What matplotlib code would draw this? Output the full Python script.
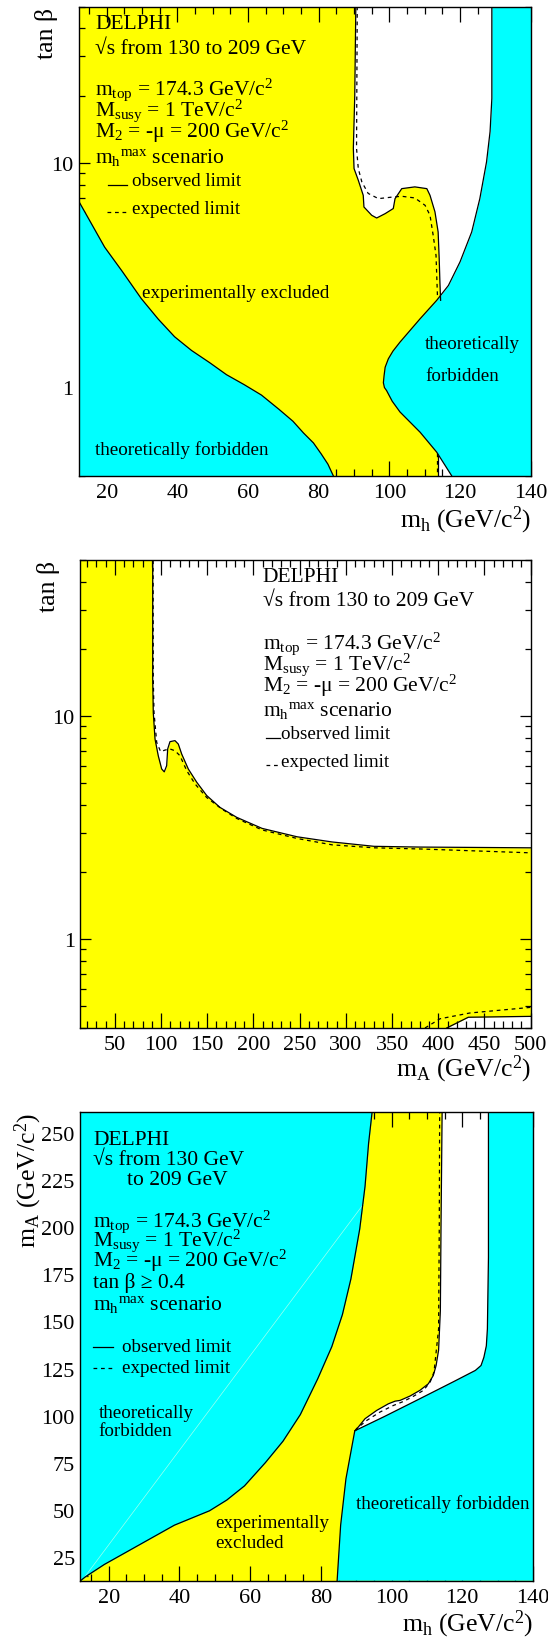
import matplotlib
matplotlib.use('Agg')
import matplotlib.pyplot as plt
from matplotlib.lines import Line2D
from matplotlib.ticker import MultipleLocator, LogLocator, FixedLocator, FixedFormatter, NullFormatter

plt.rcParams['font.family'] = ['Liberation Serif', 'DejaVu Serif']
plt.rcParams['mathtext.fontset'] = 'custom'
plt.rcParams['mathtext.rm'] = 'Liberation Serif'
plt.rcParams['mathtext.it'] = 'Liberation Serif:italic'
plt.rcParams['mathtext.bf'] = 'Liberation Serif:bold'

YELLOW = '#ffff00'
CYAN = '#00ffff'
W, H = 548, 1640

# ---------------- Panel 1 : tan(beta) vs m_h ----------------
p1_xlim = (12, 140)
p1_ylim = (0.4, 50)
p1_cyan_left_mh = [12, 19.4, 24.4, 29.8, 34.6, 39.2, 44.0, 49.1, 53.9, 58.9, 63.8, 68.8,
                   72.7, 75.7, 78.5, 80.7, 82.6, 84.1]
p1_cyan_left_tanb = [6.77, 4.2, 3.27, 2.47, 2.0, 1.67, 1.45, 1.28, 1.13, 1.02, 0.916, 0.79,
                     0.70, 0.62, 0.56, 0.50, 0.45, 0.40]
p1_cyan_right_mh = [129.0, 129.0, 128.5, 127.5, 125.6, 123.3, 120.0, 116.7, 113.4, 108.7,
                    103.0, 101.0, 99.7, 98.8, 98.5, 98.3, 98.6, 99.2, 100.8, 103.0, 108.7,
                    113.4, 117.6]
p1_cyan_right_tanb = [50, 19.4, 13.8, 10.1, 6.92, 4.91, 3.61, 2.83, 2.43, 2.01,
                      1.58, 1.44, 1.33, 1.22, 1.12, 1.04, 0.99, 0.96, 0.86, 0.77, 0.625,
                      0.509, 0.40]
p1_obs_mh = [90.5, 90.2, 89.8, 90.0, 91.2, 92.6, 92.8, 95.0, 96.4, 98.8, 101.1, 101.6,
             103.5, 107.2, 110.6, 111.5, 112.9, 113.8, 114.1, 114.3, 114.5]
p1_obs_tanb = [50, 20, 11.6, 9.43, 8.36, 7.16, 6.35, 5.83, 5.67, 5.93, 6.25, 6.92,
               7.67, 7.81, 7.67, 7.16, 6.04, 4.91, 3.73, 2.94, 2.43]
p1_exp_mh = [90.9, 90.7, 91.2, 92.2, 94.0, 96.9, 101.1, 103.5, 107.2, 110.1, 111.5,
             112.4, 113.2, 113.4, 113.6]
p1_exp_tanb = [50, 11.6, 9.43, 8.22, 7.30, 6.92, 7.04, 7.09, 6.97, 6.46, 5.83,
               4.74, 3.86, 3.14, 2.56]
p1_obs_low_mh = [113.8, 113.8]
p1_obs_low_tanb = [0.49, 0.40]
p1_exp_low_mh = [113.4, 113.4]
p1_exp_low_tanb = [0.505, 0.40]

# ---------------- Panel 2 : tan(beta) vs m_A ----------------
p2_xlim = (12, 500)
p2_ylim = (0.4, 50)
p2_obs_mA = [91.0, 91.0, 91.6, 93.5, 97.0, 100.7, 103.5, 106.1, 107.2, 109.7, 115.1, 118.7,
             122.4, 129.5, 138.6, 149.4, 163.8, 181.9, 209.4, 247.2, 285.1, 330.4, 379.6, 500]
p2_obs_tanb = [50, 14.7, 10.4, 7.9, 6.65, 5.80, 5.63, 6.0, 7.13, 7.69, 7.77, 7.50,
               6.76, 5.80, 5.06, 4.41, 3.90, 3.52, 3.14, 2.88, 2.73, 2.61, 2.59, 2.57]
p2_exp_mA = [91.4, 91.6, 92.4, 95.3, 99.6, 104.3, 109.7, 115.1, 120.5, 127.8, 136.8,
             149.4, 165.6, 181.9, 209.4, 247.2, 285.1, 330.4, 379.6, 500]
p2_exp_tanb = [50, 14.7, 10.4, 7.64, 6.93, 7.05, 7.13, 7.0, 6.65, 5.70, 4.97,
               4.32, 3.84, 3.48, 3.09, 2.83, 2.65, 2.57, 2.54, 2.44]
p2_obs_low_mA = [409.1, 432.5, 500]
p2_obs_low_tanb = [0.40, 0.447, 0.451]
p2_exp_low_mA = [385.6, 401.9, 434.1, 500]
p2_exp_low_tanb = [0.40, 0.440, 0.467, 0.495]

# ---------------- Panel 3 : m_A vs m_h ----------------
p3_xlim = (12, 140)
p3_ylim = (12.5, 261)
p3_cyan_left_mh = [12, 13.4, 18.8, 28.7, 38.6, 48.5, 53.4, 58.4, 64.3, 69.3, 74.2, 79.1,
                   83.1, 86.1, 88.5, 91.0, 92.5, 93.5, 94.5]
p3_cyan_left_mA = [12.5, 14.6, 21.2, 31.6, 42.0, 49.6, 55.3, 62.8, 75.1, 86.5, 100.6, 119.5,
                   136.6, 153.6, 172.5, 199.0, 221.6, 244.3, 261]
p3_cyan_right_mh = [84.6, 85.6, 87.1, 89.6, 97.9, 107.8, 117.7, 123.7, 125.3, 126.1, 126.8,
                    127.1, 127.4, 127.4]
p3_cyan_right_mA = [12.5, 42.0, 66.6, 92.0, 99.5, 108.8, 118.2, 124.0, 126.6, 130.9, 137.0,
                    146.0, 183.8, 261]
p3_obs_mh = [89.6, 90.6, 92.5, 95.8, 99.1, 101.0, 102.4, 105.2, 108.0, 110.4, 111.8, 112.6,
             112.9, 113.3, 113.8, 114.0, 114.3]
p3_obs_mA = [92.0, 94.0, 98.4, 102.8, 106.3, 107.7, 108.1, 110.4, 113.4, 116.9, 121.3, 126.6,
             130.1, 134.7, 155.5, 202.7, 261]
p3_exp_mh = [89.8, 90.1, 93.0, 96.7, 100.5, 103.3, 106.1, 109.0, 110.9, 112.0, 112.4,
             113.3, 113.5, 113.6]
p3_exp_mA = [92.0, 93.1, 97.5, 101.9, 105.4, 107.5, 110.2, 113.4, 117.8, 123.1, 130.1,
             146.0, 202.7, 261]
p3_diag_mh = [13.0, 92.0]
p3_diag_mA = [14.0, 212.0]

# ---------------- helpers ----------------
fig = plt.figure(figsize=(W / 100, H / 100), dpi=100)
fig.patch.set_facecolor('white')


def add_axes(left, right, top, bottom):
    return fig.add_axes([left / W, 1 - bottom / H, (right - left) / W, (bottom - top) / H])


def ftext(x, y, s, size, **kw):
    fig.text(x / W, 1 - y / H, s, fontsize=size, va=kw.pop('va', 'baseline'),
             ha=kw.pop('ha', 'left'), **kw)


def fline(x0, x1, y, **kw):
    fig.add_artist(Line2D([x0 / W, x1 / W], [1 - y / H, 1 - y / H],
                          transform=fig.transFigure, color='black', lw=0.9, **kw))


DASH = (0, (3.0, 3.0))
LW = 0.9


def style_axes(ax, xmaj, xmin, log=False, ymaj=None, ymin=None):
    ax.tick_params(which='both', direction='in', top=True, right=True, width=0.9,
                   labelsize=16)
    ax.tick_params(axis='x', which='major', length=10.5, pad=5)
    ax.tick_params(axis='x', which='minor', length=5)
    ax.tick_params(axis='y', which='major', length=8, pad=3.5)
    ax.tick_params(axis='y', which='minor', length=4)
    ax.xaxis.set_major_locator(MultipleLocator(xmaj))
    ax.xaxis.set_minor_locator(MultipleLocator(xmin))
    if log:
        ax.set_yscale('log')
        ax.yaxis.set_major_locator(FixedLocator([1, 10]))
        ax.yaxis.set_major_formatter(FixedFormatter(['1', '10']))
        ax.yaxis.set_minor_locator(LogLocator(base=10, subs=range(2, 10)))
        ax.yaxis.set_minor_formatter(NullFormatter())
    else:
        ax.yaxis.set_major_locator(MultipleLocator(ymaj))
        ax.yaxis.set_minor_locator(MultipleLocator(ymin))
    for sp in ax.spines.values():
        sp.set_linewidth(1.0)
        sp.set_zorder(10)


MTOP = r'm$_{\mathrm{top}}$ = 174.3 GeV/c$^{\mathrm{2}}$'
MSUSY = r'M$_{\mathrm{susy}}$ = 1 TeV/c$^{\mathrm{2}}$'
M2 = 'M$_{\\mathrm{2}}$ = -\u03bc = 200 GeV/c$^{\\mathrm{2}}$'
MHMAX = r'm$_{\mathrm{h}}$$^{\mathrm{max}}$ scenario'
TANB = 'tan \u03b2'


def header(x, ys, size=15.5):
    ftext(x, ys[0], 'DELPHI', size)
    ftext(x, ys[1], '\u221As from 130 to 209 GeV', size)
    ftext(x, ys[2], MTOP, size)
    ftext(x, ys[3], MSUSY, size)
    ftext(x, ys[4], M2, size)
    ftext(x, ys[5], MHMAX, size)


# ================= Panel 1 =================
ax1 = add_axes(78.5, 530.7, 7.5, 476.6)
ax1.set_facecolor(YELLOW)
ax1.set_xlim(*p1_xlim)
ax1.set_ylim(*p1_ylim)
style_axes(ax1, 20, 5, log=True)
ax1.fill(p1_obs_mh + [p1_xlim[1], p1_xlim[1]],
         p1_obs_tanb + [p1_obs_tanb[-1], p1_ylim[1]], color='white', lw=0, zorder=1)
ax1.fill_betweenx(p1_obs_low_tanb, p1_obs_low_mh, p1_xlim[1], color='white', lw=0, zorder=1)
ax1.fill_between(p1_cyan_left_mh, p1_ylim[0], p1_cyan_left_tanb, color=CYAN, lw=0, zorder=2)
ax1.fill_betweenx(p1_cyan_right_tanb, p1_cyan_right_mh, p1_xlim[1], color=CYAN, lw=0, zorder=2)
ax1.plot(p1_cyan_left_mh, p1_cyan_left_tanb, color='black', lw=LW, zorder=3)
ax1.plot(p1_cyan_right_mh, p1_cyan_right_tanb, color='black', lw=LW, zorder=3)
ax1.plot(p1_obs_mh, p1_obs_tanb, color='black', lw=LW, zorder=3)
ax1.plot(p1_obs_low_mh, p1_obs_low_tanb, color='black', lw=LW, zorder=3)
ax1.plot(p1_exp_mh, p1_exp_tanb, color='black', lw=LW, ls=DASH, zorder=3)
ax1.plot(p1_exp_low_mh, p1_exp_low_tanb, color='black', lw=LW, ls=DASH, zorder=3)

header(95, [29.3, 53.8, 94.5, 115.5, 137.5, 163.3])
fline(107.5, 126.5, 185.5)
ftext(131.5, 185.5, 'observed limit', 13.7)
fline(106.5, 125.5, 213, ls=DASH)
ftext(131.5, 213.5, 'expected limit', 13.7)
ftext(141.5, 298.5, 'experimentally excluded', 13.7)
ftext(425, 349, 'theoretically', 13.7)
ftext(425, 381, 'forbidden', 13.7)
ftext(95, 455, 'theoretically forbidden', 13.7)
ftext(47, 7.5, TANB, 18.5, rotation=90, ha='center', va='top')
ftext(531, 527, r'm$_{\mathrm{h}}$ (GeV/c$^{\mathrm{2}}$)', 18.5, ha='right')

# ================= Panel 2 =================
ax2 = add_axes(79.7, 530.7, 561.3, 1029)
ax2.set_facecolor(YELLOW)
ax2.set_xlim(*p2_xlim)
ax2.set_ylim(*p2_ylim)
style_axes(ax2, 50, 10, log=True)
ax2.fill_between(p2_obs_mA, p2_obs_tanb, p2_ylim[1], color='white', lw=0, zorder=1)
ax2.fill_between(p2_obs_low_mA, p2_ylim[0], p2_obs_low_tanb, color='white', lw=0, zorder=1)
ax2.plot(p2_obs_mA, p2_obs_tanb, color='black', lw=LW, zorder=3)
ax2.plot(p2_exp_mA, p2_exp_tanb, color='black', lw=LW, ls=DASH, zorder=3)
ax2.plot(p2_obs_low_mA, p2_obs_low_tanb, color='black', lw=LW, zorder=3)
ax2.plot(p2_exp_low_mA, p2_exp_low_tanb, color='black', lw=LW, ls=DASH, zorder=3)

header(262.8, [582, 606.1, 648.5, 669.5, 691.5, 716.3])
fline(266.3, 279.6, 738.7)
ftext(281.4, 738.7, 'observed limit', 13.7)
fline(266.3, 278.5, 766, ls=DASH)
ftext(281.4, 766.6, 'expected limit', 13.7)
ftext(49, 561.3, TANB, 18.5, rotation=90, ha='center', va='top')
ftext(531, 1076, r'm$_{\mathrm{A}}$ (GeV/c$^{\mathrm{2}}$)', 18.5, ha='right')

# ================= Panel 3 =================
ax3 = add_axes(80.4, 533, 1112.9, 1581.8)
ax3.set_facecolor(YELLOW)
ax3.set_xlim(*p3_xlim)
ax3.set_ylim(*p3_ylim)
style_axes(ax3, 20, 5, ymaj=25, ymin=5)
ax3.tick_params(axis='y', which='major', length=12, pad=4)
ax3.tick_params(axis='y', which='minor', length=6)
ax3.fill(p3_obs_mh + [p3_xlim[1], p3_xlim[1]],
         p3_obs_mA + [p3_ylim[1], p3_obs_mA[0]], color='white', lw=0, zorder=1)
ax3.fill_between(p3_cyan_left_mh, p3_cyan_left_mA, p3_ylim[1], color=CYAN, lw=0, zorder=2)
ax3.fill(p3_cyan_right_mh + [p3_xlim[1], p3_xlim[1]],
         p3_cyan_right_mA + [p3_ylim[1], p3_ylim[0]], color=CYAN, lw=0, zorder=2)
ax3.plot(p3_diag_mh, p3_diag_mA, color='#9ffff0', lw=0.5, zorder=2.5)
ax3.plot(p3_cyan_left_mh, p3_cyan_left_mA, color='black', lw=LW, zorder=3)
ax3.plot(p3_cyan_right_mh, p3_cyan_right_mA, color='black', lw=LW, zorder=3)
ax3.plot(p3_obs_mh, p3_obs_mA, color='black', lw=LW, zorder=3)
ax3.plot(p3_exp_mh, p3_exp_mA, color='black', lw=LW, ls=DASH, zorder=3)

ftext(93.3, 1145, 'DELPHI', 15.5)
ftext(93.3, 1165, '\u221As from 130 GeV', 15.5)
ftext(126.7, 1185, 'to 209 GeV', 15.5)
ftext(93.3, 1226.7, MTOP, 15.5)
ftext(93.3, 1246, MSUSY, 15.5)
ftext(93.3, 1267, M2, 15.5)
ftext(93.3, 1288.3, 'tan \u03b2 \u2265 0.4', 15.5)
ftext(93.3, 1310, MHMAX, 15.5)
fline(93.3, 113.3, 1348)
ftext(121.7, 1351.7, 'observed limit', 13.7)
fline(93.3, 113.3, 1369, ls=DASH)
ftext(121.7, 1373.3, 'expected limit', 13.7)
ftext(98.6, 1417.5, 'theoretically', 13.7)
ftext(98.6, 1436, 'forbidden', 13.7)
ftext(215, 1528, 'experimentally', 13.7)
ftext(215, 1548, 'excluded', 13.7)
ftext(356.5, 1508.6, 'theoretically forbidden', 13.7)
ftext(28, 1112.9, r'm$_{\mathrm{A}}$ (GeV/c$^{\mathrm{2}}$)', 18.5, rotation=90,
      ha='center', va='top')
ftext(533, 1631, r'm$_{\mathrm{h}}$ (GeV/c$^{\mathrm{2}}$)', 18.5, ha='right')

fig.savefig('out.png', dpi=100)
